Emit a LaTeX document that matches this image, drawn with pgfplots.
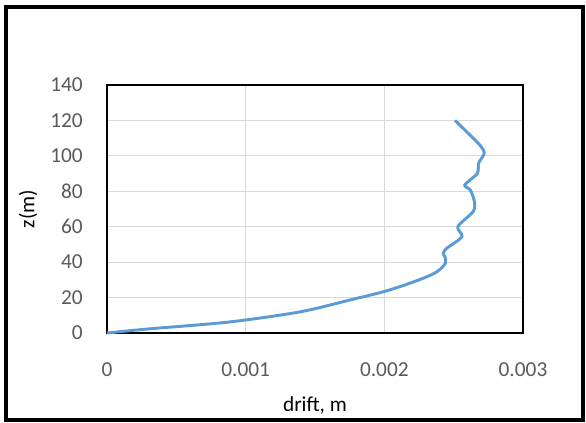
\documentclass[border=0pt]{standalone}
\usepackage{pgfplots}
\pgfplotsset{compat=1.18}
\usepackage{fontspec}
\setmainfont{Carlito}
\definecolor{tickgray}{HTML}{595959}
\definecolor{gridgray}{HTML}{D9D9D9}
\definecolor{lineblue}{HTML}{5B9BD5}
\begin{document}
\fontsize{16}{19}\selectfont
\begin{tikzpicture}
\begin{axis}[
  name=ax,
  scale only axis,
  width=312pt, height=186pt,
  xmin=0, xmax=0.003, ymin=0, ymax=140,
  xtick={0,0.001,0.002,0.003},
  xticklabels={0,0.001,0.002,0.003},
  scaled x ticks=false,
  ytick={0,20,...,140},
  /pgf/number format/assume math mode=true,
  tick style={draw=none},
  grid=major,
  major grid style={gridgray, line width=0.8pt},
  axis line style={black, line width=1.5pt},
  ticklabel style={font=\fontsize{16}{19}\selectfont, text=tickgray},
  yticklabel style={anchor=east, inner sep=0pt, xshift=-18pt},
  xticklabel style={anchor=north, inner sep=0pt, yshift=-22pt},
  xlabel={drift, m},
  ylabel={z(m)},
  label style={font=\fontsize{16}{19}\selectfont, text=tickgray!80!black},
  every axis x label/.style={at={(axis description cs:0.5,0)}, anchor=center, yshift=-54pt},
  every axis y label/.style={at={(axis description cs:0,0.5)}, anchor=center, rotate=90, yshift=59.25pt},
  clip=false,
]
\addplot[lineblue, line width=2.2pt, smooth, tension=0.5] table {
x z
0 0
0.0003 2.3
0.00088 6.2
0.00139 11.9
0.00175 18.6
0.00197 22.8
0.00211 26.1
0.00228 30.9
0.00238 34.6
0.00244 39.3
0.002437 43
0.002425 45
0.00245 47.8
0.00256 54.4
0.00253 60
0.00264 68.5
0.00265 74
0.00262 80.7
0.00258 83.6
0.00267 90
0.00268 95.8
0.00272 101.5
0.00269 106
0.002617 111.8
0.00251 120
};
\end{axis}
\draw[black, line width=2.5pt] ([xshift=-75.75pt, yshift=-65.25pt]ax.south west) rectangle ([xshift=45pt, yshift=58.5pt]ax.north east);
\useasboundingbox ([xshift=-80.25pt, yshift=-67.5pt]ax.south west) rectangle ([xshift=47.25pt, yshift=63.75pt]ax.north east);
\end{tikzpicture}
\end{document}
